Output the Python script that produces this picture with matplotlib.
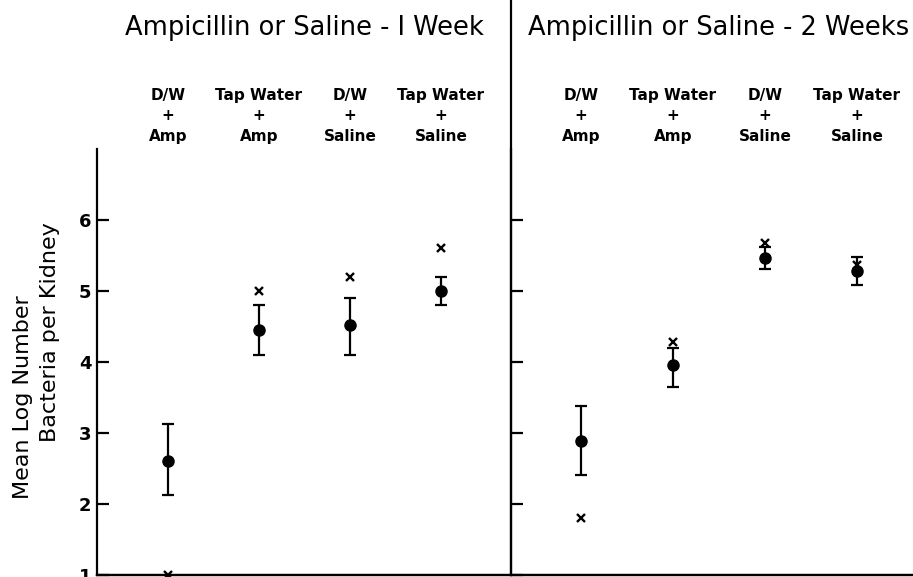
import matplotlib.pyplot as plt
from matplotlib.lines import Line2D

# values
groups = ["D/W\n+\nAmp", "Tap Water\n+\nAmp", "D/W\n+\nSaline", "Tap Water\n+\nSaline"]
titles = ["Ampicillin or Saline - I Week", "Ampicillin or Saline - 2 Weeks"]

week1_mean = [2.61, 4.45, 4.52, 5.00]
week1_upper = [3.13, 4.80, 4.90, 5.20]
week1_lower = [2.13, 4.10, 4.10, 4.80]
week1_cross = [1.00, 5.00, 5.20, 5.60]

week2_mean = [2.89, 3.96, 5.46, 5.28]
week2_upper = [3.38, 4.20, 5.62, 5.48]
week2_lower = [2.41, 3.65, 5.31, 5.08]
week2_cross = [1.80, 4.28, 5.68, 5.36]

yticks = [1, 2, 3, 4, 5, 6]

W, H = 913, 577
fig = plt.figure(figsize=(W / 100, H / 100), dpi=100)
plt.rcParams['font.family'] = 'DejaVu Sans'

y0 = 2 / H
hgt = (575 - 149) / H
ax1 = fig.add_axes([97 / W, y0, (510 - 97) / W, hgt])
ax2 = fig.add_axes([511 / W, y0, (913 - 511) / W, hgt])

panels = [
    (ax1, week1_mean, week1_upper, week1_lower, week1_cross, (-0.78, 3.76)),
    (ax2, week2_mean, week2_upper, week2_lower, week2_cross, (-0.76, 3.61)),
]

for ax, mean, up, lo, cross, xl in panels:
    xs = list(range(len(mean)))
    err = [[m - l for m, l in zip(mean, lo)], [u - m for m, u in zip(mean, up)]]
    ax.errorbar(xs, mean, yerr=err, fmt='o', color='black', ms=8,
                elinewidth=1.6, capsize=4.5, capthick=1.6, clip_on=False, zorder=3)
    ax.plot(xs, cross, 'x', color='black', ms=6, mew=1.7, clip_on=False, zorder=4)
    ax.set_xlim(*xl)
    ax.set_ylim(1, 7)
    ax.set_yticks(yticks)
    ax.set_xticks([])
    for s in ['top', 'right']:
        ax.spines[s].set_visible(False)
    ax.spines['left'].set_linewidth(1.6)
    ax.spines['bottom'].set_linewidth(1.6)
    ax.tick_params(axis='y', direction='in', length=8.5, width=1.6, pad=4,
                   left=True, right=False)
    ax.set_facecolor('none')

ax1.set_yticklabels([str(t) for t in yticks], fontsize=13, fontweight='bold')
ax2.set_yticklabels([])

# y label, two lines placed separately as in the original
fig.text(23 / W, 1 - 397 / H, "Mean Log Number", rotation=90, fontsize=16,
         ha='center', va='center')
fig.text(50 / W, 1 - 332 / H, "Bacteria per Kidney", rotation=90, fontsize=16,
         ha='center', va='center')

# panel titles and group labels
for ax, title in zip([ax1, ax2], titles):
    ax.text(1.5, 1 + (575 - 28) / 71, title, ha='center', va='center',
            fontsize=18.5, clip_on=False)
    for i, g in enumerate(groups):
        ax.text(i, 1 + (575 - 116) / 71, g, ha='center', va='center',
                fontsize=11, fontweight='bold', linespacing=1.45, clip_on=False)

# divider between the two panels, and the shared base line
fig.add_artist(Line2D([510.5 / W, 510.5 / W], [y0, 1], color='black', lw=1.6))
fig.add_artist(Line2D([97 / W, 1], [y0, y0], color='black', lw=1.6))

fig.savefig("out.png", dpi=100)
